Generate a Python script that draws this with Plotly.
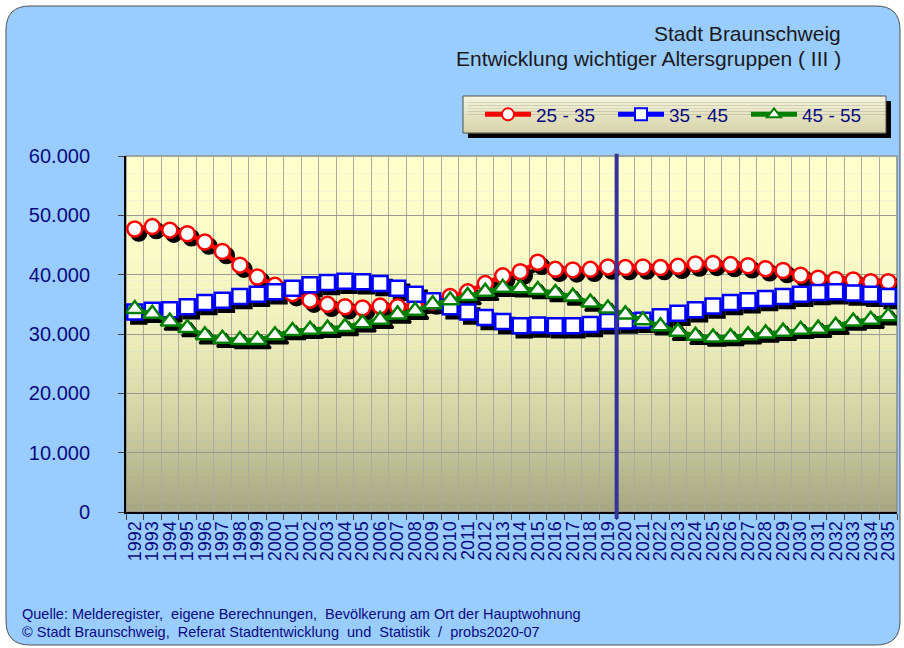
import plotly.graph_objects as go

# ---------------- data ----------------
YEARS = [str(y) for y in range(1992, 2036)]

AGE_25_35 = [47700, 48100, 47500, 46900, 45500, 43900, 41600, 39600, 38200, 36800,
             35700, 35000, 34600, 34400, 34700, 34600, 34600, 35400, 36300, 37100,
             38500, 39800, 40500, 42100, 40900, 40800, 40900, 41300, 41200, 41300,
             41200, 41400, 41800, 41900, 41700, 41500, 41000, 40700, 39900, 39400,
             39200, 39100, 38800, 38800]
AGE_35_45 = [33700, 34000, 34100, 34600, 35300, 35700, 36300, 36700, 37100, 37700,
             38300, 38700, 38900, 38800, 38500, 37700, 36700, 35600, 34600, 33700,
             32800, 32100, 31400, 31500, 31400, 31400, 31600, 32100, 32200, 32300,
             32900, 33500, 34100, 34700, 35300, 35600, 36000, 36300, 36700, 37000,
             37100, 36900, 36700, 36300]
AGE_45_55 = [34200, 33400, 32100, 31000, 29800, 29200, 29000, 29000, 29800, 30500,
             30700, 30900, 31200, 31800, 32400, 33300, 33900, 35000, 35700, 36400,
             37100, 37800, 37700, 37400, 36900, 36300, 35300, 34300, 33300, 32300,
             31300, 30400, 29700, 29400, 29500, 29800, 30100, 30400, 30700, 30900,
             31400, 32100, 32400, 33000]

SERIES_NAMES = ["25 - 35", "35 - 45", "45 - 55"]
Y_TICKS = [0, 10000, 20000, 30000, 40000, 50000, 60000]
Y_MAX = 60000
SPLIT_AFTER = "2019"   # boundary between actual and forecast

TITLE_1 = "Stadt Braunschweig"
TITLE_2 = "Entwicklung wichtiger Altersgruppen ( III )"
NOTE_1 = "Quelle: Melderegister,  eigene Berechnungen,  Bevölkerung am Ort der Hauptwohnung"
NOTE_2 = "© Stadt Braunschweig,  Referat Stadtentwicklung  und  Statistik  /  probs2020-07"

# ---------------- layout geometry ----------------
W, H = 904, 648
L, R, T, B = 126, 7, 156, 136
PW, PH = W - L - R, H - T - B


def px(x):
    return (x - L) / PW


def py(y):
    return (H - B - y) / PH


FONT = "Liberation Sans, Arial, sans-serif"
NAVY = "#0A0A80"

n = len(YEARS)
cat_px = PW / n
dx = 4 / cat_px
dy = 4 * Y_MAX / PH

styles = [
    dict(color="#FF0000", symbol="circle", size=15),
    dict(color="#0000FF", symbol="square", size=15),
    dict(color="#008000", symbol="triangle-up", size=16),
]
series = [AGE_25_35, AGE_35_45, AGE_45_55]

fig = go.Figure()

# shadows
for vals, st in zip(series, styles):
    fig.add_trace(go.Scatter(
        x=YEARS, y=vals, xaxis="x2", yaxis="y2", mode="lines+markers",
        line=dict(color="black", width=4.5),
        marker=dict(symbol=st["symbol"], size=st["size"], color="black",
                    line=dict(color="black", width=2.5)),
        showlegend=False, hoverinfo="skip"))

# series
for name, vals, st in zip(SERIES_NAMES, series, styles):
    fig.add_trace(go.Scatter(
        x=YEARS, y=vals, xaxis="x3", yaxis="y3", mode="lines+markers", name=name,
        line=dict(color=st["color"], width=4.5),
        marker=dict(symbol=st["symbol"], size=st["size"], color="white",
                    line=dict(color=st["color"], width=2.5))))

shapes = []
# outer rounded frame
x0, y0, x1, y1, r = 6, 6, 900, 645, 24
rx, ry = r / PW, r / PH
X0, X1, Y0, Y1 = px(x0), px(x1), py(y0), py(y1)
path = (f"M {X0+rx},{Y0} L {X1-rx},{Y0} Q {X1},{Y0} {X1},{Y0-ry} "
        f"L {X1},{Y1+ry} Q {X1},{Y1} {X1-rx},{Y1} "
        f"L {X0+rx},{Y1} Q {X0},{Y1} {X0},{Y1+ry} "
        f"L {X0},{Y0-ry} Q {X0},{Y0} {X0+rx},{Y0} Z")
shapes.append(dict(type="path", path=path, xref="paper", yref="paper",
                   fillcolor="#99CCFF", line=dict(color="#505050", width=1),
                   layer="below"))


def lerp_stops(stops, t):
    for j in range(len(stops) - 1):
        if stops[j][0] <= t <= stops[j + 1][0]:
            a, ca = stops[j]
            b, cb = stops[j + 1]
            f = (t - a) / (b - a)
            return tuple(int(round(ca[k] + (cb[k] - ca[k]) * f)) for k in range(3))
    return stops[-1][1]


# gradient plot background
stops = [(0.0, (255, 255, 204)), (0.25, (252, 252, 200)), (0.5, (238, 238, 188)),
         (0.75, (208, 208, 162)), (1.0, (166, 166, 130))]
NB = 40
for i in range(NB):
    c = lerp_stops(stops, (i + 0.5) / NB)
    shapes.append(dict(type="rect", xref="paper", yref="paper",
                       x0=0, x1=1, y0=1 - (i + 1) / NB, y1=1 - i / NB + 0.001,
                       fillcolor=f"rgb{c}", line=dict(width=0), layer="below"))
# grey plot frame
shapes.append(dict(type="rect", xref="paper", yref="paper", x0=0, x1=1, y0=0, y1=1,
                   line=dict(color="#8C8C8C", width=1.5), fillcolor="rgba(0,0,0,0)",
                   layer="below"))
# legend box: shadow + gradient body + border
LX0, LX1, LY0, LY1 = 463, 886, 96, 133
shapes.append(dict(type="rect", xref="paper", yref="paper",
                   x0=px(LX0 + 5), x1=px(LX1 + 5), y0=py(LY1 + 5), y1=py(LY0 + 5),
                   fillcolor="black", line=dict(width=0), layer="below"))
lstops = [(0.0, (246, 245, 222)), (1.0, (214, 210, 168))]
NLB = 12
for i in range(NLB):
    c = lerp_stops(lstops, (i + 0.5) / NLB)
    ya = LY0 + (LY1 - LY0) * i / NLB
    yb = LY0 + (LY1 - LY0) * (i + 1) / NLB
    shapes.append(dict(type="rect", xref="paper", yref="paper",
                       x0=px(LX0), x1=px(LX1), y0=py(yb + 0.3), y1=py(ya),
                       fillcolor=f"rgb{c}", line=dict(width=0), layer="below"))
shapes.append(dict(type="rect", xref="paper", yref="paper",
                   x0=px(LX0), x1=px(LX1), y0=py(LY1), y1=py(LY0),
                   fillcolor="rgba(0,0,0,0)", line=dict(color="#505050", width=1),
                   layer="below"))
# forecast split line
split_idx = YEARS.index(SPLIT_AFTER) + 0.5
shapes.append(dict(type="line", xref="x", yref="paper", x0=split_idx, x1=split_idx,
                   y0=-0.02, y1=1.006, line=dict(color="#333399", width=4),
                   layer="above"))

annotations = [
    dict(text=TITLE_1, x=px(843), y=py(34), xref="paper", yref="paper",
         xanchor="right", yanchor="middle", showarrow=False,
         font=dict(family=FONT, size=21, color="#1A1A1A")),
    dict(text=TITLE_2, x=px(843), y=py(59), xref="paper", yref="paper",
         xanchor="right", yanchor="middle", showarrow=False,
         font=dict(family=FONT, size=21, color="#1A1A1A")),
    dict(text=NOTE_1, x=px(20), y=py(614), xref="paper", yref="paper",
         xanchor="left", yanchor="middle", showarrow=False,
         font=dict(family=FONT, size=14.5, color=NAVY)),
    dict(text=NOTE_2, x=px(20), y=py(632), xref="paper", yref="paper",
         xanchor="left", yanchor="middle", showarrow=False,
         font=dict(family=FONT, size=14.5, color=NAVY)),
]

xrange = [-0.5, n - 0.5]
fig.update_layout(
    width=W, height=H,
    margin=dict(l=L, r=R, t=T, b=B, pad=0),
    paper_bgcolor="white",
    plot_bgcolor="rgba(0,0,0,0)",
    separators=",.",
    font=dict(family=FONT, color=NAVY),
    shapes=shapes,
    annotations=annotations,
    xaxis=dict(type="category", categoryorder="array", categoryarray=YEARS,
               range=xrange, tickson="boundaries", tickmode="array", tickvals=YEARS,
               ticks="outside", ticklen=6,
               tickcolor="#404040", tickangle=-90, showgrid=True,
               gridcolor="#ABABA0", gridwidth=1, showline=True,
               linecolor="black", linewidth=2,
               tickfont=dict(family=FONT, size=18, color=NAVY), zeroline=False),
    yaxis=dict(range=[0, Y_MAX], tickvals=Y_TICKS, tickformat=",d", ticks="outside",
               ticklen=6, tickcolor="#404040", showgrid=True, gridcolor="#9A9A95",
               gridwidth=1, showline=True, linecolor="black", linewidth=2,
               zeroline=False, ticklabelstandoff=24,
               tickfont=dict(family=FONT, size=20, color=NAVY)),
    xaxis2=dict(type="category", categoryorder="array", categoryarray=YEARS,
                overlaying="x", anchor="y2", range=[xrange[0] - dx, xrange[1] - dx],
                visible=False),
    yaxis2=dict(overlaying="y", anchor="x2", range=[dy, Y_MAX + dy], visible=False),
    xaxis3=dict(type="category", categoryorder="array", categoryarray=YEARS,
                overlaying="x", anchor="y3", range=xrange, visible=False),
    yaxis3=dict(overlaying="y", anchor="x3", range=[0, Y_MAX], visible=False),
    legend=dict(orientation="h", x=px(480), xanchor="left",
                y=py((LY0 + LY1) / 2), yanchor="middle",
                bgcolor="rgba(0,0,0,0)", borderwidth=0,
                font=dict(family=FONT, size=19, color=NAVY),
                entrywidth=72, entrywidthmode="pixels", itemsizing="constant",
                itemwidth=46, tracegroupgap=0),
    hovermode=False,
)

fig.write_html("out.html", config={"displayModeBar": False},
               post_script="document.body.style.margin='0';")
